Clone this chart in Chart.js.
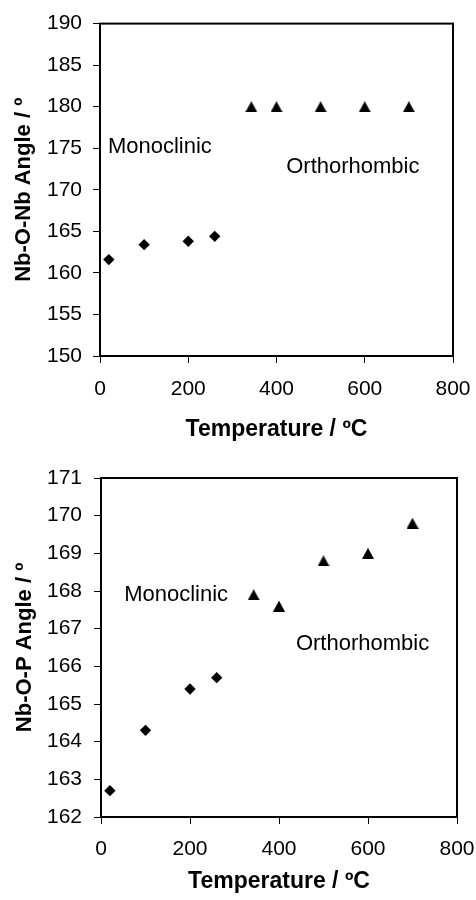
<!DOCTYPE html>
<html>
<head>
<meta charset="utf-8">
<script src="https://cdn.jsdelivr.net/npm/chart.js@4/dist/chart.umd.min.js"></script>
<style>
  html, body { margin: 0; padding: 0; background: #fff; }
  .box { width: 476px; height: 450px; position: relative; }
  canvas { display: block; }
</style>
</head>
<body>
<div class="box"><canvas id="c1" width="476" height="450"></canvas></div>
<div class="box"><canvas id="c2" width="476" height="450"></canvas></div>
<script>
// ---- Data ----
const xTickValues = [0, 200, 400, 600, 800];

// Top chart: Nb-O-Nb angle
const topMonoTemp = [20, 100, 200, 260];
const topMonoAngle = [161.6, 163.4, 163.8, 164.4];
const topOrthoTemp = [343, 400, 500, 600, 700];
const topOrthoAngle = [180, 180, 180, 180, 180];
const topYTicks = [150, 155, 160, 165, 170, 175, 180, 185, 190];

// Bottom chart: Nb-O-P angle
const botMonoTemp = [20, 100, 200, 260];
const botMonoAngle = [162.7, 164.3, 165.4, 165.7];
const botOrthoTemp = [343, 400, 500, 600, 700];
const botOrthoAngle = [167.9, 167.6, 168.8, 169.0, 169.8];
const botYTicks = [162, 163, 164, 165, 166, 167, 168, 169, 170, 171];

const topLabels = [
  { text: 'Monoclinic', x: 18, y: 175.1 },
  { text: 'Orthorhombic', x: 422, y: 172.7 }
];
const botLabels = [
  { text: 'Monoclinic', x: 52, y: 167.9 },
  { text: 'Orthorhombic', x: 438, y: 166.6 }
];

const FONT = "'Liberation Sans', Arial, Helvetica, sans-serif";

function pts(xs, ys) { return xs.map((x, i) => ({ x: x, y: ys[i] })); }

// Triangle marker centred in its bounding box (like spreadsheet markers)
function triangleMarker(w, h) {
  const c = document.createElement('canvas');
  c.width = w; c.height = h;
  const g = c.getContext('2d');
  g.fillStyle = '#000';
  g.beginPath();
  g.moveTo(w / 2, 0);
  g.lineTo(w, h);
  g.lineTo(0, h);
  g.closePath();
  g.fill();
  return c;
}
const TRI = triangleMarker(12, 11);

const frameAndText = {
  id: 'frameAndText',
  afterDraw(chart, args, opts) {
    const { ctx, chartArea: a, scales } = chart;
    ctx.save();
    ctx.strokeStyle = '#000';
    ctx.lineWidth = 2;
    ctx.strokeRect(a.left, a.top, a.right - a.left, a.bottom - a.top);
    ctx.fillStyle = '#000';
    ctx.font = '22px ' + FONT;
    ctx.textAlign = 'left';
    ctx.textBaseline = 'middle';
    (opts.labels || []).forEach(l => {
      ctx.fillText(l.text, scales.x.getPixelForValue(l.x), scales.y.getPixelForValue(l.y));
    });
    ctx.restore();
  }
};

function makeChart(id, cfg) {
  const yTicks = cfg.yTicks;
  return new Chart(document.getElementById(id), {
    type: 'scatter',
    data: {
      datasets: [
        {
          data: pts(cfg.monoT, cfg.monoA),
          pointStyle: 'rectRot',
          pointRadius: 5.7,
          pointHoverRadius: 5.7,
          backgroundColor: '#000',
          borderColor: '#000',
          borderWidth: 0
        },
        {
          data: pts(cfg.orthoT, cfg.orthoA),
          pointStyle: TRI,
          pointRadius: 6,
          pointHoverRadius: 6,
          backgroundColor: '#000',
          borderColor: '#000',
          borderWidth: 0
        }
      ]
    },
    options: {
      responsive: false,
      animation: false,
      devicePixelRatio: 1,
      events: [],
      layout: { padding: { top: cfg.padTop, right: cfg.padRight, left: 0, bottom: 0 } },
      plugins: {
        legend: { display: false },
        tooltip: { enabled: false },
        frameAndText: { labels: cfg.labels }
      },
      scales: {
        x: {
          type: 'linear',
          min: xTickValues[0],
          max: xTickValues[xTickValues.length - 1],
          afterBuildTicks: s => { s.ticks = xTickValues.map(v => ({ value: v })); },
          afterFit: s => { s.height = cfg.xHeight; s.paddingLeft = 0; s.paddingRight = 0; },
          grid: { drawOnChartArea: false, drawTicks: true, tickLength: 7, color: '#000', lineWidth: 1 },
          border: { display: true, color: '#000', width: 2 },
          ticks: { color: '#000', font: { family: FONT, size: 21 }, padding: cfg.xTickPad, maxRotation: 0 },
          title: {
            display: true,
            text: 'Temperature / ºC',
            color: '#000',
            font: { family: FONT, size: 23, weight: 'bold' },
            padding: { top: 0, bottom: cfg.xTitlePad }
          }
        },
        y: {
          type: 'linear',
          min: yTicks[0],
          max: yTicks[yTicks.length - 1],
          afterBuildTicks: s => { s.ticks = yTicks.map(v => ({ value: v })); },
          afterFit: s => { s.width = cfg.yWidth; },
          grid: { drawOnChartArea: false, drawTicks: true, tickLength: 7, color: '#000', lineWidth: 1 },
          border: { display: true, color: '#000', width: 2 },
          ticks: { color: '#000', font: { family: FONT, size: 21 }, padding: cfg.yTickPad },
          title: {
            display: true,
            text: cfg.yTitle,
            color: '#000',
            font: { family: FONT, size: 22, weight: 'bold' },
            padding: { top: cfg.yTitlePad, bottom: 0 }
          }
        }
      }
    },
    plugins: [frameAndText]
  });
}

makeChart('c1', {
  monoT: topMonoTemp, monoA: topMonoAngle,
  orthoT: topOrthoTemp, orthoA: topOrthoAngle,
  yTicks: topYTicks, labels: topLabels,
  yTitle: 'Nb-O-Nb Angle / º',
  padTop: 23, padRight: 23, xHeight: 94, yWidth: 100,
  xTickPad: 14, yTickPad: 11, xTitlePad: 7, yTitlePad: 11
});

makeChart('c2', {
  monoT: botMonoTemp, monoA: botMonoAngle,
  orthoT: botOrthoTemp, orthoA: botOrthoAngle,
  yTicks: botYTicks, labels: botLabels,
  yTitle: 'Nb-O-P Angle / º',
  padTop: 28, padRight: 19, xHeight: 83, yWidth: 101,
  xTickPad: 13, yTickPad: 12, xTitlePad: 5, yTitlePad: 12
});
</script>
</body>
</html>
